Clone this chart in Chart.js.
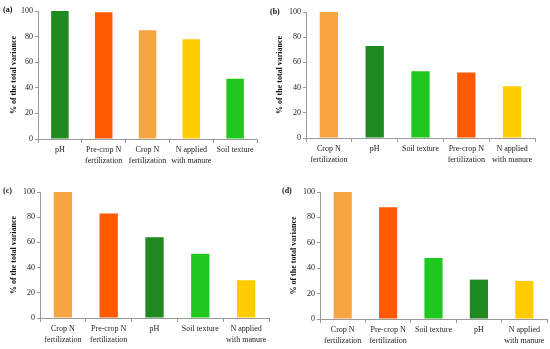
<!DOCTYPE html>
<html>
<head>
<meta charset="utf-8">
<script src="https://cdn.jsdelivr.net/npm/chart.js@4.4.0/dist/chart.umd.min.js"></script>
<style>
  body { margin: 0; background: #fff; }
  #wrap { position: relative; width: 550px; height: 349px; overflow: hidden; }
  canvas { position: absolute; }
  .tag { position: absolute; font: bold 8px "Liberation Serif", serif; color: #111; line-height: 10px; }
</style>
</head>
<body>
<div id="wrap">
  <canvas id="chartA" width="275" height="175" style="left:0;top:0"></canvas>
  <canvas id="chartB" width="275" height="175" style="left:275px;top:0"></canvas>
  <canvas id="chartC" width="275" height="174" style="left:0;top:175px"></canvas>
  <canvas id="chartD" width="275" height="174" style="left:275px;top:175px"></canvas>
  <div class="tag" style="left:3px;top:5px">(a)</div>
  <div class="tag" style="left:270px;top:7px">(b)</div>
  <div class="tag" style="left:3px;top:186px">(c)</div>
  <div class="tag" style="left:282px;top:186px">(d)</div>
</div>
<script>
// data
const factorsA = ['pH', 'Pre-crop N fertilization', 'Crop N fertilization', 'N applied with manure', 'Soil texture'];
const valuesA = [100, 99, 85, 78, 47];

const factorsB = ['Crop N fertilization', 'pH', 'Soil texture', 'Pre-crop N fertilization', 'N applied with manure'];
const valuesB = [100, 73, 53, 52, 41];

const factorsC = ['Crop N fertilization', 'Pre-crop N fertilization', 'pH', 'Soil texture', 'N applied with manure'];
const valuesC = [100, 83, 64, 51, 30];

const factorsD = ['Crop N fertilization', 'Pre-crop N fertilization', 'Soil texture', 'pH', 'N applied with manure'];
const valuesD = [100, 88, 48, 31, 30];

const yTicks = [0, 20, 40, 60, 80, 100];
const yTitle = '% of the total variance';

// one colour per factor
const factorColors = {
    'pH': '#1f8a1f',
    'Pre-crop N fertilization': '#ff5a00',
    'Crop N fertilization': '#f7a541',
    'N applied with manure': '#ffcc00',
    'Soil texture': '#1ec81e'
};

const labelLines = {
    'Pre-crop N fertilization': ['Pre-crop N', 'fertilization'],
    'Crop N fertilization': ['Crop N', 'fertilization'],
    'N applied with manure': ['N applied', 'with manure']
};

const serif = '"Liberation Serif", "Times New Roman", serif';
const axisColor = '#9a9a9a';

function makeChart(id, factors, values, box) {
    const ctx = document.getElementById(id).getContext('2d');
    return new Chart(ctx, {
        type: 'bar',
        data: {
            labels: factors.map(f => labelLines[f] || f),
            datasets: [{
                data: values,
                backgroundColor: factors.map(f => factorColors[f]),
                borderWidth: 0,
                barPercentage: 0.4,
                categoryPercentage: 1
            }]
        },
        options: {
            responsive: false,
            animation: false,
            layout: {
                padding: { left: 0, top: box.top, right: box.right, bottom: 0 }
            },
            plugins: {
                legend: { display: false },
                tooltip: { enabled: false }
            },
            scales: {
                x: {
                    grid: {
                        drawOnChartArea: false,
                        drawTicks: true,
                        tickLength: 4,
                        color: axisColor
                    },
                    border: { color: axisColor },
                    ticks: {
                        color: '#222',
                        font: { family: serif, size: 8, lineHeight: 1.3 },
                        maxRotation: 0,
                        minRotation: 0,
                        autoSkip: false,
                        padding: 2
                    },
                    afterFit: scale => { scale.height = box.xh; }
                },
                y: {
                    min: yTicks[0],
                    max: yTicks[yTicks.length - 1],
                    grid: {
                        drawOnChartArea: false,
                        drawTicks: true,
                        tickLength: 3,
                        color: axisColor
                    },
                    border: { color: axisColor },
                    ticks: {
                        stepSize: yTicks[1] - yTicks[0],
                        color: '#222',
                        font: { family: serif, size: 8 },
                        padding: 2
                    },
                    title: {
                        display: true,
                        text: yTitle,
                        color: '#111',
                        font: { family: serif, size: 8, weight: 'bold' },
                        padding: { top: box.titlePad, bottom: 0 }
                    },
                    afterFit: scale => { scale.width = box.yw; }
                }
            }
        }
    });
}

makeChart('chartA', factorsA, valuesA, { yw: 38, top: 11, right: 18, xh: 36, titlePad: 9 });
makeChart('chartB', factorsB, valuesB, { yw: 31, top: 12, right: 15, xh: 37, titlePad: 0 });
makeChart('chartC', factorsC, valuesC, { yw: 40, top: 17, right: 6, xh: 31, titlePad: 9 });
makeChart('chartD', factorsD, valuesD, { yw: 45, top: 17, right: 3, xh: 30, titlePad: 14 });
</script>
</body>
</html>
